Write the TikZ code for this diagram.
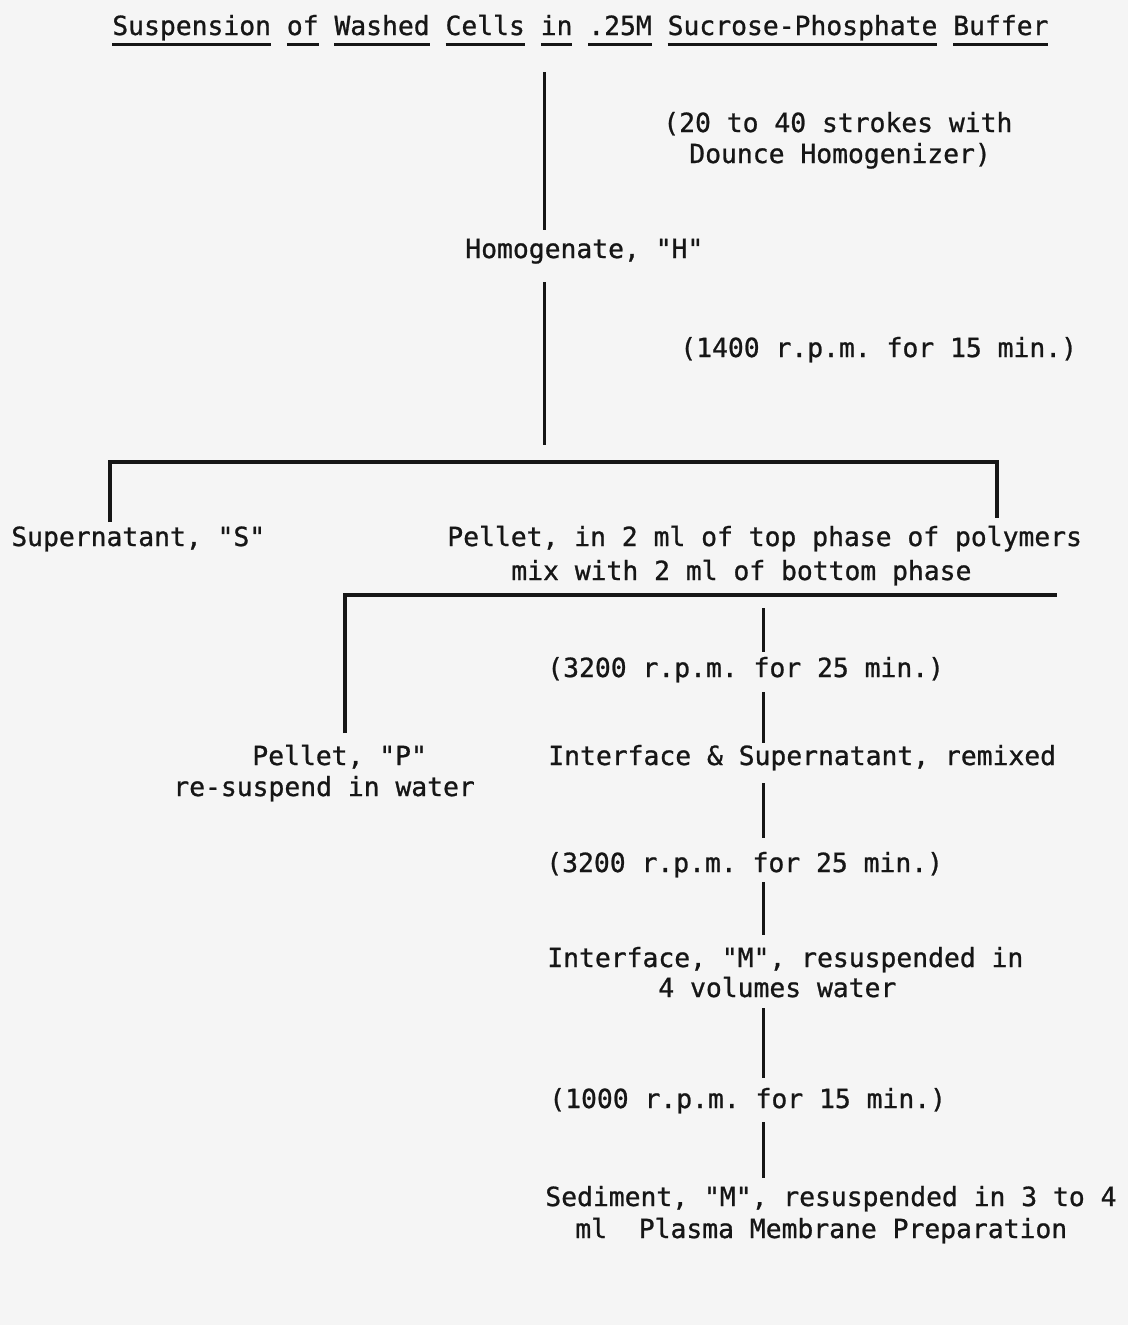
\documentclass[tikz,border=0pt]{standalone}
\usepackage{fontspec}
\usepackage{tikz}
\usetikzlibrary{positioning}
\newfontfamily\typer[FakeBold=0.9]{DejaVu Sans Mono}
\definecolor{paper}{RGB}{245, 245, 245}
\definecolor{ink}{RGB}{22, 22, 22}
\newlength\ulwd
\newcommand{\ulword}[1]{\settowidth{\ulwd}{#1}\rlap{\color{ink}\rule[-6pt]{\ulwd}{1.7pt}}#1}
\frenchspacing

\begin{document}
\begin{tikzpicture}[x=0.02cm, y=-0.02cm,
  txt/.style={anchor=base west, inner sep=0pt, text=ink, font=\typer\fontsize{15}{18}\selectfont\frenchspacing},
  link/.style={draw=ink, line width=1.7pt},
  split/.style={draw=ink, line width=1.9pt}]
  \fill[paper] (0,0) rectangle (1128,1325);
  \useasboundingbox (0,0) rectangle (1128,1325);

  % starting material
  \node[txt] (susp) at (112,35) {\ulword{Suspension} \ulword{of} \ulword{Washed} \ulword{Cells} \ulword{in} \ulword{.25M} \ulword{Sucrose-Phosphate} \ulword{Buffer}};
  \node[txt] (stroke1) at (663,132) {(20 to 40 strokes with};
  \node[txt] (stroke2) at (689,163) {Dounce Homogenizer)};
  \node[txt] (homog) at (465,258) {Homogenate, "H"};
  \node[txt] (spin1) at (680,357) {(1400 r.p.m. for 15 min.)};

  % first split
  \node[txt] (super) at (11,546) {Supernatant, "S"};
  \node[txt] (pellet) at (447,546) {Pellet, in 2 ml of top phase of polymers};
  \node[txt] (mix) at (511,580) {mix with 2 ml of bottom phase};
  \node[txt] (spin2) at (547,677) {(3200 r.p.m. for 25 min.)};

  % second split
  \node[txt] (pelP) at (252,765) {Pellet, "P"};
  \node[txt] (resusp) at (173,796) {re-suspend in water};
  \node[txt] (remix) at (548,765) {Interface \& Supernatant, remixed};
  \node[txt] (spin3) at (546,872) {(3200 r.p.m. for 25 min.)};
  \node[txt] (interM) at (547,967) {Interface, "M", resuspended in};
  \node[txt] (vol) at (658,997) {4 volumes water};
  \node[txt] (spin4) at (549,1108) {(1000 r.p.m. for 15 min.)};
  \node[txt] (sedM) at (545,1206) {Sediment, "M", resuspended in 3 to 4};
  \node[txt] (plasma) at (575,1238) {ml\ \ Plasma Membrane Preparation};

  % trunk
  \coordinate (t1) at (544,72);
  \coordinate (t2) at (544,230);
  \coordinate (t3) at (544,282);
  \coordinate (t4) at (544,445);
  \draw[link] (t1) -- (t2);
  \draw[link] (t3) -- (t4);

  % brackets
  \coordinate (sL) at (110,522);
  \coordinate (sR) at (997,518);
  \draw[split] (sL) -- (110,462) -- (997,462) -- (sR);
  \coordinate (pL) at (345,733);
  \coordinate (pR) at (1057,595);
  \draw[split] (pL) -- (345,595) -- (pR);

  % right column
  \foreach \ya/\yb in {608/652, 692/743, 783/838, 882/935, 1008/1078, 1122/1178}
    \draw[link] (763,\ya) -- (763,\yb);
\end{tikzpicture}
\end{document}
